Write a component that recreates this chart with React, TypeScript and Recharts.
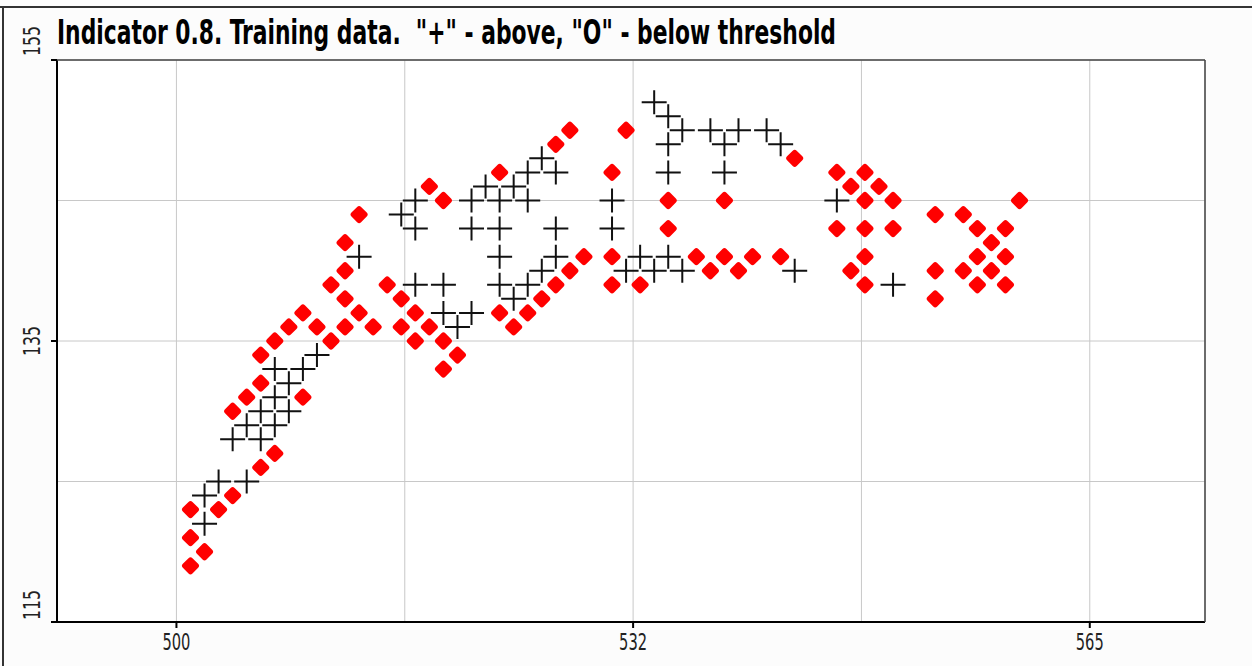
import React from 'react';
import { ScatterChart, Scatter, XAxis, YAxis, CartesianGrid } from 'recharts';

const WIDTH = 1252;
const HEIGHT = 666;

// "+" : indicator above the threshold
const abovePoints: [number, number][] = [
  [502, 122], [502, 124], [503, 125], [505, 125],
  [504, 128], [505, 129], [506, 128], [507, 129], [506, 130], [508, 130],
  [507, 131], [508, 132], [507, 133], [509, 133], [510, 134],
  [513, 141], [516, 144], [517, 145], [517, 143],
  [517, 139], [519, 139], [519, 137], [521, 137], [520, 136],
  [521, 145], [522, 146], [521, 143], [523, 145], [524, 146], [523, 143],
  [525, 145], [525, 147], [526, 148], [527, 147], [527, 143],
  [523, 141], [527, 141], [526, 140], [525, 139], [523, 139], [524, 138],
  [531, 145], [531, 143], [533, 141], [535, 141], [532, 140], [534, 140], [536, 140],
  [534, 152], [535, 151], [536, 150], [535, 149], [535, 147],
  [538, 150], [540, 150], [539, 149], [539, 147], [542, 150], [543, 149],
  [544, 140], [547, 145], [551, 139],
];

// "O" : indicator below the threshold
const belowPoints: [number, number][] = [
  [501, 119], [502, 120], [501, 121], [501, 123], [503, 123], [504, 124], [506, 126], [507, 127],
  [504, 130], [505, 131], [509, 131], [506, 132], [506, 134], [507, 135], [508, 136], [509, 137],
  [510, 136], [511, 135], [512, 136], [513, 137], [514, 136], [516, 136], [517, 135], [518, 136],
  [519, 135], [520, 134], [519, 133], [516, 138], [517, 137], [515, 139], [512, 138], [511, 139],
  [512, 140], [512, 142], [513, 144], [518, 146], [519, 145], [523, 147], [527, 149], [528, 150],
  [523, 137], [524, 136], [525, 137], [526, 138], [527, 139], [528, 140], [529, 141],
  [531, 147], [532, 150], [531, 141], [531, 139], [533, 139], [535, 145], [535, 143], [539, 145],
  [537, 141], [538, 140], [539, 141], [540, 140], [541, 141], [543, 141], [544, 148],
  [547, 147], [549, 147], [548, 146], [550, 146], [549, 145], [551, 145],
  [547, 143], [549, 143], [551, 143], [549, 141], [548, 140], [549, 139],
  [554, 144], [556, 144], [557, 143], [559, 143], [558, 142], [557, 141], [559, 141],
  [554, 140], [556, 140], [558, 140], [557, 139], [559, 139], [554, 138], [560, 145],
];

const xGridTicks = [500, 516.25, 532.5, 548.75, 565];
const xLabelValues = [500, 532.5, 565];
const xLabels = ['500', '532', '565'];

const yGridTicks = [115, 125, 135, 145, 155];
const yLabelValues = [115, 135, 155];
const yLabels = ['115', '135', '155'];

const xDomain = [491.5, 573.2];
const yDomain = [115, 155];

const title = 'Indicator 0.8. Training data.\u00a0 "+" - above, "O" - below threshold';

const narrowFont = "'Liberation Sans Narrow', 'DejaVu Sans Condensed', 'Arial Narrow', sans-serif";

const aboveData = abovePoints.map(([x, y]) => ({ x, y }));
const belowData = belowPoints.map(([x, y]) => ({ x, y }));

const Diamond = (props: any) => {
  const { cx, cy } = props;
  return (
    <rect
      x={cx - 6.8}
      y={cy - 6.8}
      width={13.6}
      height={13.6}
      rx={2.8}
      fill="#ff0000"
      transform={`rotate(45 ${cx} ${cy})`}
    />
  );
};

const Cross = (props: any) => {
  const { cx, cy } = props;
  return (
    <path
      d={`M${cx - 12.5},${cy}H${cx + 12.5}M${cx},${cy - 12}V${cy + 12}`}
      stroke="#111"
      strokeWidth={2}
      fill="none"
    />
  );
};

const XTick = (props: any) => {
  const { x, y, payload } = props;
  const i = xLabelValues.indexOf(payload.value);
  if (i < 0) return <g />;
  return (
    <g>
      <line x1={x} x2={x} y1={y - 6} y2={y} stroke="#000" strokeWidth={2} />
      <text
        x={x}
        y={y + 22}
        textAnchor="middle"
        fontFamily={narrowFont}
        fontSize={23}
        fill="#222"
        textLength={28}
        lengthAdjust="spacingAndGlyphs"
      >
        {xLabels[i]}
      </text>
    </g>
  );
};

const YTick = (props: any) => {
  const { x, y, payload } = props;
  const i = yLabelValues.indexOf(payload.value);
  if (i < 0) return <g />;
  // top and bottom labels sit above their tick, the middle one is centred
  const anchor = i === 1 ? 'middle' : 'start';
  const ty = i === 1 ? y : y - 4 + (i === 0 ? 2 : 0);
  return (
    <g>
      <line x1={x} x2={x + 6} y1={y} y2={y} stroke="#000" strokeWidth={2} />
      <text
        x={x - 11}
        y={ty}
        textAnchor={anchor}
        fontFamily={narrowFont}
        fontSize={23}
        fill="#222"
        textLength={30}
        lengthAdjust="spacingAndGlyphs"
        transform={`rotate(-90 ${x - 11} ${ty})`}
      >
        {yLabels[i]}
      </text>
    </g>
  );
};

export default function App() {
  return (
    <div style={{ position: 'absolute', left: 0, top: 0, width: WIDTH, height: HEIGHT, background: '#fcfcfc' }}>
      <ScatterChart width={WIDTH} height={HEIGHT} margin={{ top: 60, right: 47, bottom: 0, left: 0 }}>
        <CartesianGrid stroke="#c8c8c8" fill="#ffffff" />
        <XAxis
          type="number"
          dataKey="x"
          domain={xDomain}
          ticks={xGridTicks}
          allowDataOverflow
          height={44}
          tickSize={6}
          tickMargin={0}
          tickLine={false}
          tick={<XTick />}
          axisLine={{ stroke: '#000', strokeWidth: 2 }}
          interval={0}
        />
        <YAxis
          type="number"
          dataKey="y"
          domain={yDomain}
          ticks={yGridTicks}
          allowDataOverflow
          width={57}
          tickSize={6}
          tickMargin={0}
          tickLine={false}
          tick={<YTick />}
          axisLine={{ stroke: '#000', strokeWidth: 2 }}
          interval={0}
        />
        <Scatter data={belowData} shape={<Diamond />} isAnimationActive={false} />
        <Scatter data={aboveData} shape={<Cross />} isAnimationActive={false} />
      </ScatterChart>
      <svg
        width={WIDTH}
        height={HEIGHT}
        style={{ position: 'absolute', left: 0, top: 0, pointerEvents: 'none' }}
      >
        <line x1={0} x2={WIDTH} y1={7} y2={7} stroke="#333" strokeWidth={2} />
        <line x1={3} x2={3} y1={7} y2={HEIGHT} stroke="#333" strokeWidth={2} />
        <line x1={57} x2={1205} y1={60} y2={60} stroke="#444" strokeWidth={1.5} />
        <line x1={1205} x2={1205} y1={60} y2={622} stroke="#444" strokeWidth={1.5} />
        <text
          x={57}
          y={44}
          fontFamily={narrowFont}
          fontWeight="bold"
          fontSize={33}
          fill="#000"
          textLength={779}
          lengthAdjust="spacingAndGlyphs"
        >
          {title}
        </text>
      </svg>
    </div>
  );
}
